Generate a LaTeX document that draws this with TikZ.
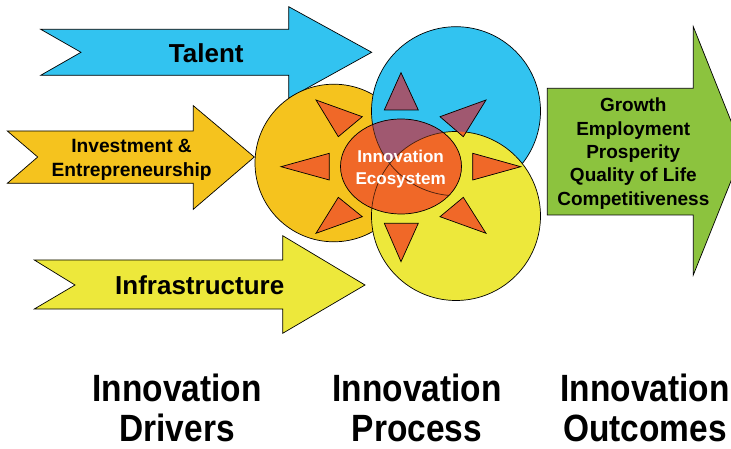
\documentclass[tikz,border=0pt]{standalone}
\usepackage{fontspec}
\setmainfont{Liberation Sans}
\newfontfamily\narrowsans[FakeStretch=0.88]{Liberation Sans}

\definecolor{skyblue}{RGB}{50,195,240}
\definecolor{gold}{RGB}{245,195,30}
\definecolor{lemon}{RGB}{237,232,59}
\definecolor{leaf}{RGB}{140,195,62}
\definecolor{ember}{RGB}{240,104,40}
\definecolor{mauve}{RGB}{160,88,112}

\tikzset{
  bigarrow/.style={draw=black, line width=0.7pt, line join=miter},
  disc/.style={draw=black, line width=0.7pt},
  arrowtext/.style={font=\bfseries\fontsize{26}{31}\selectfont, inner sep=0pt},
  smalltext/.style={font=\bfseries\fontsize{19.2}{23.3}\selectfont, align=center, inner sep=0pt},
  stagetext/.style={font=\narrowsans\bfseries\fontsize{38}{40.5}\selectfont, align=center, inner sep=0pt}
}

% the eight rays round the ecosystem, and the ecosystem itself
\newcommand{\sunrays}[1]{%
  \path[#1] (401,72.7) -- (384.3,110) -- (418.3,110) -- cycle
    (486,100) -- (440,116.7) -- (463.3,136.7) -- cycle
    (520.7,166.7) -- (472.7,153.3) -- (472.7,180) -- cycle
    (486,233.3) -- (440,216.7) -- (463.3,197.3) -- cycle
    (401,261.7) -- (384.3,223.3) -- (418.3,223.3) -- cycle
    (316,233.3) -- (338.3,197.3) -- (362.3,216.7) -- cycle
    (281,166.7) -- (329.3,153.3) -- (329.3,180) -- cycle
    (316,100) -- (362.3,116.7) -- (338.3,136.7) -- cycle;}
\newcommand{\ecocore}[1]{%
  \path[#1] (401,166.5) ellipse [x radius=60.5, y radius=47.5];}

\begin{document}
\begin{tikzpicture}[x=1pt,y=-1pt]
\useasboundingbox (0,0) rectangle (731,449);
\clip (0,0) rectangle (731,449);

% driver arrows
\draw[bigarrow, fill=skyblue] (40.7,29.3) -- (288.7,29.3) -- (288.7,6.7) -- (371.7,52.3)
  -- (288.7,98.3) -- (288.7,75.3) -- (40.7,75.3) -- (81,52.3) -- cycle;
\draw[bigarrow, fill=gold] (7.3,131) -- (193.3,131) -- (193.3,105.7) -- (254.3,157)
  -- (193.3,209.3) -- (193.3,183.3) -- (7.3,183.3) -- (37.7,157) -- cycle;
\draw[bigarrow, fill=lemon] (34.3,260) -- (282.7,260) -- (282.7,235.7) -- (365,285)
  -- (282.7,333.3) -- (282.7,309) -- (34.3,309) -- (75,285) -- cycle;
% outcome arrow
\draw[bigarrow, fill=leaf] (547.3,88.3) -- (693.3,88.3) -- (693.3,26.7) -- (743,151)
  -- (693.3,275) -- (693.3,215) -- (547.3,215) -- cycle;

% process circles
\draw[disc, fill=gold] (333.8,163) circle (78.8);
\draw[disc, fill=skyblue] (456,111.2) circle (84.5);
\draw[disc, fill=lemon] (456,216) circle (84.5);

% ecosystem and rays
\ecocore{fill=ember}
\sunrays{fill=ember}
\begin{scope}
  \clip (456,111.2) circle (84.5);
  \ecocore{fill=mauve}
  \sunrays{fill=mauve}
  \clip (456,216) circle (84.5);
  \ecocore{fill=ember}
  \sunrays{fill=ember}
\end{scope}
\begin{scope}
  \ecocore{clip}
  \draw[black!70!ember, line width=0.7pt] (456,111.2) circle (84.5);
  \draw[black!70!ember, line width=0.7pt] (456,216) circle (84.5);
\end{scope}
\ecocore{draw=black, line width=0.7pt}
\sunrays{draw=black, line width=0.7pt, line join=miter}

% labels
\node[arrowtext] (talent) at (206.3,52.8) {Talent};
\node[smalltext] (invest) at (131.6,159.8) {Investment \&\\Entrepreneurship};
\node[arrowtext] (infra) at (199.7,285) {Infrastructure};
\node[smalltext, font=\bfseries\fontsize{19}{23.3}\selectfont] (outcomes) at (633.3,153.5)
  {Growth\\Employment\\Prosperity\\Quality of Life\\Competitiveness};
\node[smalltext, text=white, font=\bfseries\fontsize{17.1}{21.6}\selectfont] (ecosystem)
  at (400.7,169.2) {Innovation\\Ecosystem};

\node[stagetext] (drivers) at (177,408) {Innovation\\Drivers};
\node[stagetext] (process) at (417,408) {Innovation\\Process};
\node[stagetext] (results) at (645,408) {Innovation\\Outcomes};
\end{tikzpicture}
\end{document}
